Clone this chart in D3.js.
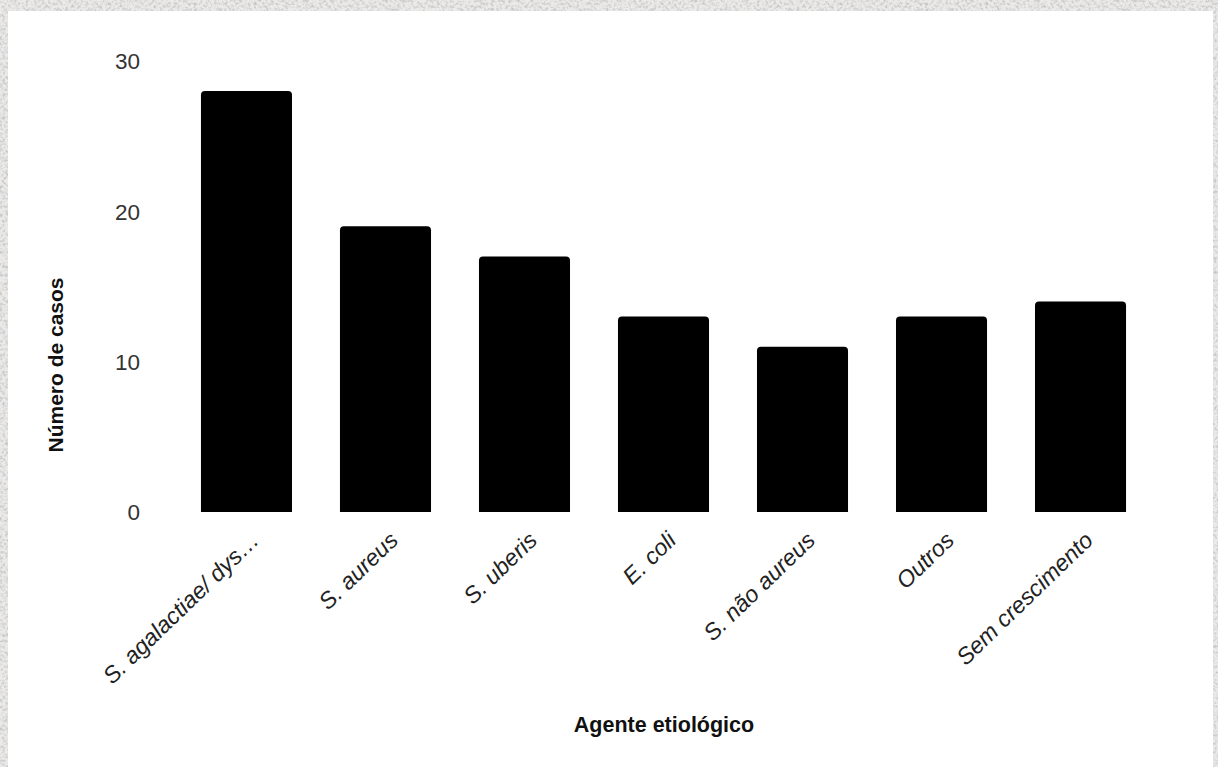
<!DOCTYPE html>
<html>
<head>
<meta charset="utf-8">
<script src="https://cdn.jsdelivr.net/npm/d3@7"></script>
<style>
  html, body { margin: 0; padding: 0; background: #e9e8e7; }
  svg { display: block; }
</style>
</head>
<body>
<svg id="chart" width="1218" height="767"></svg>
<script>
// Mastitis cases by etiological agent
const categories = ["S. agalactiae/ dysgalactiae", "S. aureus", "S. uberis", "E. coli", "S. não aureus", "Outros", "Sem crescimento"];
const casos = [28, 19, 17, 13, 11, 13, 14];
const yTicks = [0, 10, 20, 30];

const W = 1218, H = 767;
const svg = d3.select("#chart");

// paper-like textured backdrop
const defs = svg.append("defs");
const f = defs.append("filter").attr("id", "paper").attr("x", 0).attr("y", 0).attr("width", "100%").attr("height", "100%");
f.append("feTurbulence").attr("type", "fractalNoise").attr("baseFrequency", 0.35).attr("numOctaves", 3).attr("seed", 7).attr("result", "n");
f.append("feColorMatrix").attr("in", "n").attr("type", "matrix")
  .attr("values", "0 0 0 0 0.45  0 0 0 0 0.45  0 0 0 0 0.45  -1.8 0 0 0 1.05")
  .attr("result", "spots");
f.append("feComposite").attr("in", "spots").attr("in2", "SourceGraphic").attr("operator", "in").attr("result", "sp");
f.append("feMerge").call(m => { m.append("feMergeNode").attr("in", "SourceGraphic"); m.append("feMergeNode").attr("in", "sp"); });

svg.append("rect").attr("width", W).attr("height", H).attr("fill", "#ebeae9").attr("filter", "url(#paper)");

// white card
svg.append("rect").attr("x", 8).attr("y", 11).attr("width", 1205).attr("height", H - 11).attr("fill", "#ffffff");

const x = d3.scaleBand().domain(categories).range([153, 1174]).paddingInner(0.345).paddingOuter(0.345);
const y = d3.scaleLinear().domain([0, 30]).range([512, 61]);

const font = "'Liberation Sans', Arial, Helvetica, sans-serif";

// bars with rounded top corners
const r = 4;
function barPath(d, i) {
  const x0 = x(categories[i]), w = x.bandwidth();
  const yt = y(d), yb = y(0);
  return `M${x0},${yb}V${yt + r}Q${x0},${yt} ${x0 + r},${yt}H${x0 + w - r}Q${x0 + w},${yt} ${x0 + w},${yt + r}V${yb}Z`;
}
svg.append("g").selectAll("path").data(casos).join("path")
  .attr("d", barPath).attr("fill", "#000000");

// y axis (labels only)
const yAxis = d3.axisLeft(y).tickValues(yTicks).tickSize(0).tickPadding(0);
const gy = svg.append("g").attr("transform", "translate(140,0)").call(yAxis);
gy.select(".domain").remove();
gy.selectAll("text").attr("font-family", font).attr("font-size", 22.5).attr("fill", "#333333").attr("dy", "0.35em");

// x axis: rotated italic labels, long names shortened with an ellipsis
function shortLabel(s) { return s.length > 19 ? s.slice(0, 18).trimEnd() + "\u2026" : s; }
const xAxis = d3.axisBottom(x).tickSize(0).tickPadding(0).tickFormat(shortLabel);
const gx = svg.append("g").attr("transform", "translate(0,512)").call(xAxis);
gx.select(".domain").remove();
gx.selectAll("text")
  .attr("font-family", font).attr("font-size", 23.2).attr("font-style", "italic").attr("fill", "#222222")
  .attr("text-anchor", "end").attr("dy", null).attr("y", 0)
  .attr("transform", "translate(14,30) rotate(-44)");

// axis titles
svg.append("text").attr("x", 664).attr("y", 732).attr("text-anchor", "middle")
  .attr("font-family", font).attr("font-weight", "bold").attr("font-size", 21.5).attr("fill", "#111111")
  .text("Agente etiológico");
svg.append("text").attr("transform", "translate(63,365) rotate(-90)").attr("text-anchor", "middle")
  .attr("font-family", font).attr("font-weight", "bold").attr("font-size", 21).attr("fill", "#111111")
  .text("Número de casos");
</script>
</body>
</html>
